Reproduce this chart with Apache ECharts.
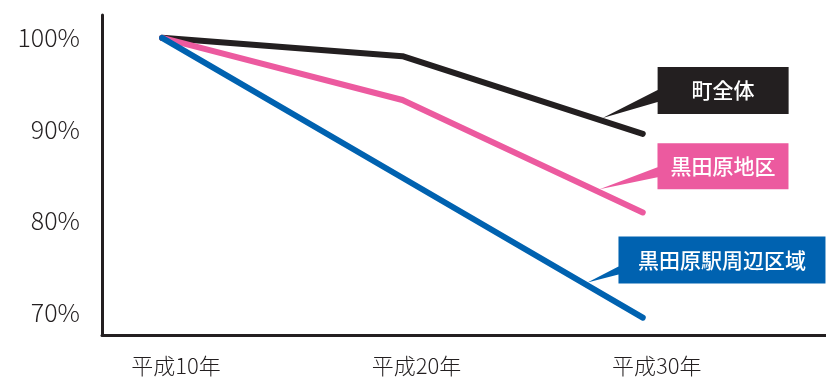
<!DOCTYPE html>
<html><head><meta charset="utf-8">
<script src="https://cdn.jsdelivr.net/npm/echarts@6/dist/echarts.min.js"></script>
<style>html,body{margin:0;padding:0;background:#fff}#c{width:826px;height:379px}</style>
</head><body><div id="c"></div>
<script>
// ---- data ----
const years = [10, 20, 30];
const yearLabels = ['平成10年', '平成20年', '平成30年'];
const seriesNames = ['町全体', '黒田原地区', '黒田原駅周辺区域'];
const townWhole = [100, 98.0, 89.5];
const kurodaharaDistrict = [100, 93.2, 80.9];
const stationArea = [100, 84.7, 69.4];
const yTicks = [70, 80, 90, 100];

// ---- style ----
const colors = ['#231f20', '#ec5a9f', '#0062b0'];
const FONT = '"Noto Sans CJK JP", "Noto Sans", sans-serif';
// callout layout: tip x (data units), box relative to tip, pointer attach y's
const callouts = [
  { tipX: 28.33, bx0: 55, by0: -51, bx1: 186, by1: -4, p0: -28, p1: -16 },
  { tipX: 28.2,  bx0: 58, by0: -46, bx1: 189, by1: 0,  p0: -22, p1: -12 },
  { tipX: 27.7,  bx0: 31, by0: -46, bx1: 238, by1: 1,  p0: -16, p1: -8 }
];
const values = [townWhole, kurodaharaDistrict, stationArea];

function interp(arr, x) {
  for (let i = 0; i < years.length - 1; i++) {
    if (x >= years[i] && x <= years[i + 1]) {
      const t = (x - years[i]) / (years[i + 1] - years[i]);
      return arr[i] + t * (arr[i + 1] - arr[i]);
    }
  }
  return arr[arr.length - 1];
}

function makeSeries(idx) {
  const c = callouts[idx];
  const path = 'path://M0 0 L' + c.bx0 + ' ' + c.p1 + ' L' + c.bx0 + ' ' + c.by1 +
    ' L' + c.bx1 + ' ' + c.by1 + ' L' + c.bx1 + ' ' + c.by0 + ' L' + c.bx0 + ' ' + c.by0 +
    ' L' + c.bx0 + ' ' + c.p0 + ' Z';
  const W = c.bx1, maxY = Math.max(0, c.by1), H = maxY - c.by0;
  const cx = W / 2, cy = c.by0 + H / 2;
  const dy = -3;
  return {
    name: seriesNames[idx],
    type: 'line',
    data: years.map((y, i) => [y, values[idx][i]]),
    symbol: 'none',
    lineStyle: { color: colors[idx], width: 6, cap: 'round', join: 'round' },
    itemStyle: { color: colors[idx] },
    silent: true,
    markPoint: {
      silent: true,
      symbol: path,
      symbolSize: [W, H],
      symbolOffset: [cx, cy + dy],
      itemStyle: { color: colors[idx] },
      label: {
        show: true,
        position: 'inside',
        formatter: seriesNames[idx],
        color: '#fff',
        fontFamily: FONT,
        fontSize: 21,
        fontWeight: 500,
        offset: [(c.bx0 + c.bx1) / 2 - cx, (c.by0 + c.by1) / 2 - cy]
      },
      emphasis: { disabled: true },
      data: [{ coord: [c.tipX, interp(values[idx], c.tipX)] }]
    }
  };
}

const chart = echarts.init(document.getElementById('c'), null, { renderer: 'canvas' });
chart.setOption({
  animation: false,
  backgroundColor: '#fff',
  grid: { left: 102, right: 0, top: 15, bottom: 44, containLabel: false },
  xAxis: {
    type: 'value',
    min: 7.5, max: 37.6, interval: 2.5,
    axisLine: { show: true, lineStyle: { color: '#231f20', width: 3 } },
    axisTick: { show: false },
    splitLine: { show: false },
    axisLabel: {
      margin: 20,
      color: '#231f20',
      fontFamily: FONT,
      fontSize: 22,
      fontWeight: 300,
      padding: [0, 0, 0, 28],
      showMinLabel: false, showMaxLabel: false,
      formatter: v => { const i = years.indexOf(v); return i >= 0 ? yearLabels[i] : ''; }
    }
  },
  yAxis: {
    type: 'value',
    min: 67.5, max: 102.5, interval: 2.5,
    axisLine: { show: true, onZero: false, lineStyle: { color: '#231f20', width: 3 } },
    axisTick: { show: false },
    splitLine: { show: false },
    axisLabel: {
      margin: 22,
      color: '#231f20',
      fontFamily: FONT,
      fontSize: 25,
      fontWeight: 300,
      padding: [11, 0, 0, 0],
      showMinLabel: false, showMaxLabel: false,
      formatter: v => yTicks.indexOf(v) >= 0 ? v + '%' : ''
    }
  },
  series: [makeSeries(0), makeSeries(1), makeSeries(2)]
});
</script>
</body></html>
